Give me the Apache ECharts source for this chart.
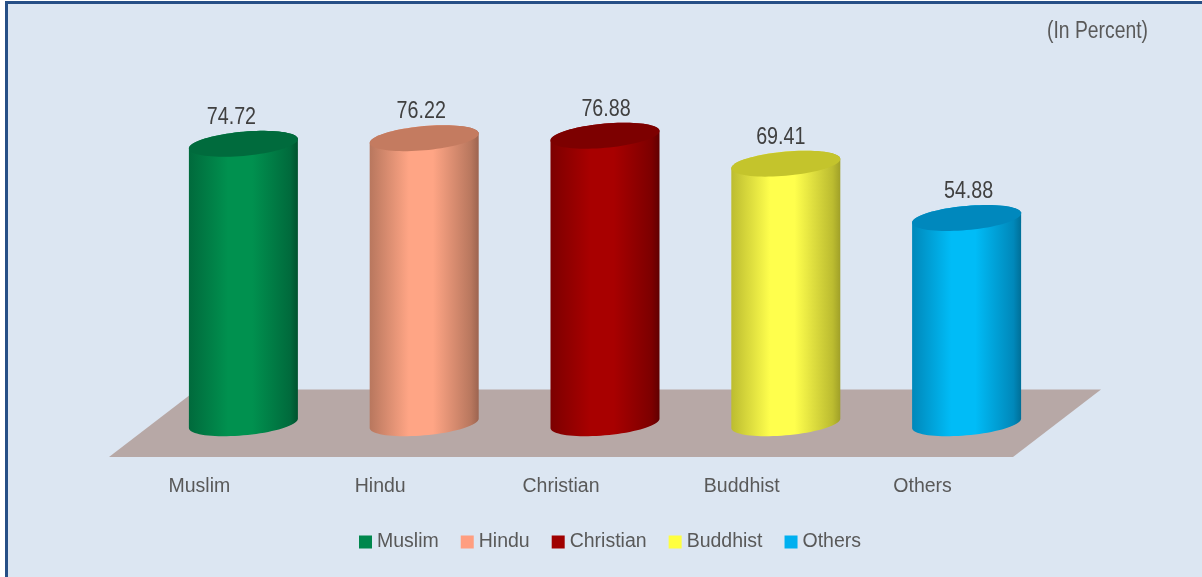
<!DOCTYPE html>
<html>
<head>
<meta charset="utf-8">
<title>In Percent</title>
<script src="https://cdn.jsdelivr.net/npm/echarts@6/dist/echarts.min.js"></script>
<style>
    html, body { margin: 0; padding: 0; background: #fff; overflow: hidden; }
    #panel {
        position: absolute; left: 5px; top: 1px; right: 0; bottom: 0;
        background: #dce6f2;
        border-left: 3px solid #264f86;
        border-top: 3px solid #264f86;
    }
    #main { position: absolute; left: 0; top: 0; width: 1202px; height: 577px; }
</style>
</head>
<body>
<div id="panel"></div>
<div id="main"></div>
<script>
var categories = ['Muslim', 'Hindu', 'Christian', 'Buddhist', 'Others'];
var values = [74.72, 76.22, 76.88, 69.41, 54.88];

// side edge, highlight, top cap
var sideDark = ['#006a3c', '#b8775e', '#7c0000', '#bcbc30', '#0088ba'];
var sideLight = ['#00914f', '#ffa585', '#a80000', '#ffff4d', '#00bcf7'];
var sideEdge = ['#00522e', '#9c6450', '#600000', '#a0a028', '#006f98'];
var capColor = ['#006b3d', '#c47b60', '#7d0000', '#c4c42c', '#0088bd'];
var legendColor = ['#00874d', '#ff9e80', '#a00000', '#ffff40', '#00b0f0'];

// the labels were placed by hand in the original, not quite centred
var labelNudge = [-12, -3, 1, -5, 2];

var fontName = '"Liberation Sans", Arial, sans-serif';
var depth = [88, -67.5];   // floor depth, oblique projection
var radiusX = 54.5, radiusY = 12.1, tilt = 4.7;

function ringPoint(cx, cy, t) {
    return [cx + radiusX * Math.cos(t), cy + radiusY * Math.sin(t) - tilt * Math.cos(t)];
}

function cylinder(idx) {
    return function (params, api) {
        var top = api.coord([api.value(0), api.value(1)]);
        var base = api.coord([api.value(0), 0]);
        var cx = top[0] + depth[0] / 2, topY = top[1] + depth[1] / 2, baseY = base[1] + depth[1] / 2;
        var body = [], cap = [], i, t;
        // front half of the base, then up and over the back of the top ring
        for (i = 0; i <= 40; i++) {
            t = Math.PI * i / 40;
            body.push(ringPoint(cx, baseY, t));
        }
        for (i = 0; i <= 40; i++) {
            t = Math.PI + Math.PI * i / 40;
            body.push(ringPoint(cx, topY, t));
        }
        for (i = 0; i < 80; i++) {
            cap.push(ringPoint(cx, topY, 2 * Math.PI * i / 80));
        }
        return {
            type: 'group',
            children: [
                {
                    type: 'polygon',
                    shape: { points: body },
                    style: {
                        fill: new echarts.graphic.LinearGradient(0, 0, 1, 0, [
                            { offset: 0, color: sideDark[idx] },
                            { offset: 0.36, color: sideLight[idx] },
                            { offset: 0.58, color: sideLight[idx] },
                            { offset: 0.93, color: sideDark[idx] },
                            { offset: 1, color: sideEdge[idx] }
                        ])
                    }
                },
                {
                    type: 'polygon',
                    shape: { points: cap },
                    style: { fill: capColor[idx] }
                },
                {
                    type: 'text',
                    x: cx + labelNudge[idx],
                    y: topY - 26.5,
                    scaleX: 0.82,
                    style: {
                        text: values[idx].toFixed(2),
                        align: 'center',
                        verticalAlign: 'middle',
                        font: '24px ' + fontName,
                        fill: '#404040'
                    }
                }
            ]
        };
    };
}

var seriesList = [{
    type: 'custom',
    name: 'floor',
    silent: true,
    z: 1,
    data: [[0, 0]],
    renderItem: function (params, api) {
        var cs = params.coordSys;
        var y = cs.y + cs.height;
        return {
            type: 'polygon',
            shape: {
                points: [
                    [cs.x, y],
                    [cs.x + cs.width, y],
                    [cs.x + cs.width + depth[0], y + depth[1]],
                    [cs.x + depth[0], y + depth[1]]
                ]
            },
            style: { fill: '#b7a8a6' }
        };
    }
}];

categories.forEach(function (name, i) {
    seriesList.push({
        type: 'custom',
        name: name,
        z: 2,
        itemStyle: { color: legendColor[i] },
        data: [[i, values[i]]],
        encode: { x: 0, y: 1 },
        renderItem: cylinder(i)
    });
});

var myChart = echarts.init(document.getElementById('main'));
var option = {
    animation: false,
    backgroundColor: 'transparent',
    graphic: [{
        type: 'text',
        x: 1097.5,
        y: 32,
        scaleX: 0.84,
        style: {
            text: '(In Percent)',
            align: 'center',
            verticalAlign: 'middle',
            font: '23px ' + fontName,
            fill: '#595959'
        }
    }],
    legend: {
        data: categories,
        left: 354,
        top: 527,
        icon: 'rect',
        itemWidth: 13,
        itemHeight: 13,
        itemGap: 22,
        selectedMode: false,
        textStyle: { fontFamily: fontName, fontSize: 19.5, color: '#595959' }
    },
    grid: { left: 109, width: 904, top: 83, height: 374 },
    xAxis: {
        type: 'category',
        data: categories,
        axisLine: { show: false },
        axisTick: { show: false },
        axisLabel: { margin: 20, fontFamily: fontName, fontSize: 19.5, color: '#595959' }
    },
    yAxis: {
        type: 'value',
        min: 0,
        max: 100,
        show: false
    },
    series: seriesList
};
myChart.setOption(option);
</script>
</body>
</html>
